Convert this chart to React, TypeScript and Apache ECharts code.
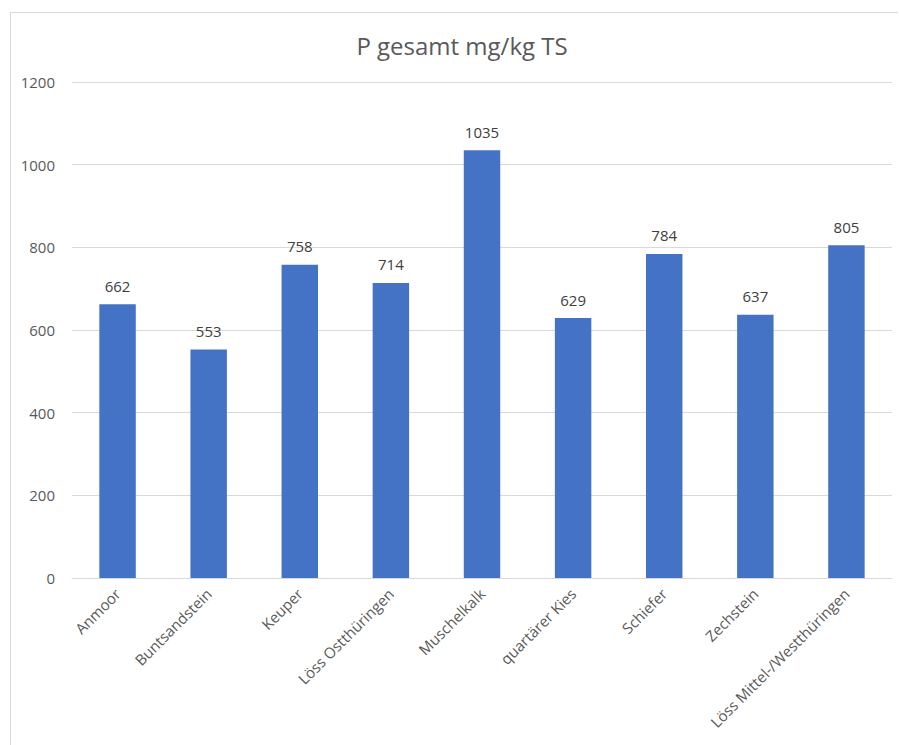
import React, { useEffect, useRef } from "react";
import * as echarts from "echarts";

const categories = [
  "Anmoor",
  "Buntsandstein",
  "Keuper",
  "Löss Ostthüringen",
  "Muschelkalk",
  "quartärer Kies",
  "Schiefer",
  "Zechstein",
  "Löss Mittel-/Westthüringen",
];
const values = [662, 553, 758, 714, 1035, 629, 784, 637, 805];
const titleText = "P gesamt mg/kg TS";

export default function App() {
  const ref = useRef<HTMLDivElement>(null);
  useEffect(() => {
    if (!ref.current) return;
    document.body.style.margin = "0";
    document.body.style.overflow = "hidden";
    const chart = echarts.init(ref.current, null, { renderer: "svg" });
    const font = "'Open Sans', 'Noto Sans', sans-serif";
    chart.setOption({
      animation: false,
      backgroundColor: "#ffffff",
      textStyle: { fontFamily: font },
      title: {
        text: titleText,
        left: 457,
        textAlign: "center",
        top: 28,
        textStyle: { fontFamily: font, fontSize: 24, fontWeight: "normal", color: "#595959" },
      },
      graphic: [
        {
          type: "line",
          shape: { x1: 10.5, y1: 12.5, x2: 898, y2: 12.5 },
          style: { stroke: "#d9d9d9", lineWidth: 1 },
          silent: true,
        },
        {
          type: "line",
          shape: { x1: 10.5, y1: 12.5, x2: 10.5, y2: 745 },
          style: { stroke: "#d9d9d9", lineWidth: 1 },
          silent: true,
        },
      ],
      grid: { left: 72, right: 7, top: 82, bottom: 167, containLabel: false },
      xAxis: {
        type: "category",
        data: categories,
        axisLine: { show: true, lineStyle: { color: "#d9d9d9", width: 1 } },
        axisTick: { show: false },
        axisLabel: {
          rotate: 45,
          interval: 0,
          margin: 13,
          color: "#595959",
          fontSize: 15,
          fontFamily: font,
        },
      },
      yAxis: {
        type: "value",
        min: 0,
        max: 1200,
        interval: 200,
        axisLine: { show: false },
        axisTick: { show: false },
        splitLine: { lineStyle: { color: "#d9d9d9", width: 1 } },
        axisLabel: {
          color: "#595959",
          fontSize: 15,
          margin: 17,
          fontFamily: font,
          formatter: (v: number) => String(v),
        },
      },
      series: [
        {
          type: "bar",
          data: values,
          barWidth: "40%",
          itemStyle: { color: "#4472c4" },
          label: {
            show: true,
            position: "top",
            distance: 11,
            color: "#404040",
            fontSize: 15,
            fontFamily: font,
          },
        },
      ],
    });
    return () => chart.dispose();
  }, []);
  return (
    <div
      ref={ref}
      style={{ width: 899, height: 745, position: "absolute", left: 0, top: 0 }}
    />
  );
}
